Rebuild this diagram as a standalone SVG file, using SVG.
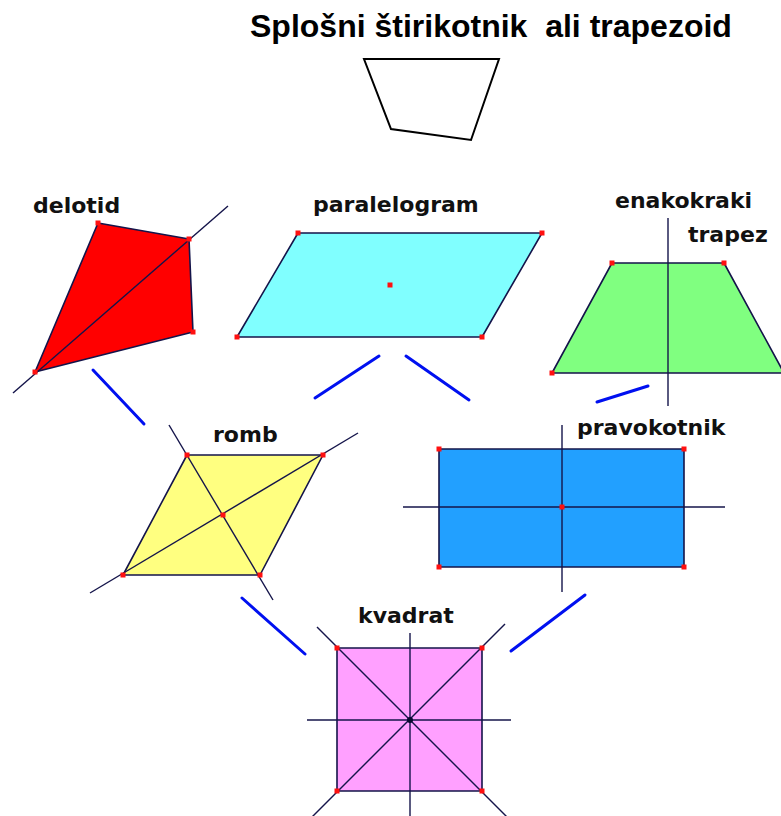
<svg xmlns="http://www.w3.org/2000/svg" width="781" height="816" viewBox="0 0 781 816">
<style>
.lbl{font-family:"DejaVu Sans",sans-serif;font-weight:bold;font-size:22px;fill:#111}
.title{font-family:"Liberation Sans",Arial,sans-serif;font-weight:bold;font-size:32px;fill:#000;white-space:pre}
.shape{stroke:#14144a;stroke-width:1.6;stroke-linejoin:round}
.ax{stroke:#14144a;stroke-width:1.4;fill:none}
.con{stroke:#0010f0;stroke-width:3;stroke-linecap:round;fill:none}
.pt{fill:#ff1010}
</style>
<defs>
<rect id="d" x="-2.5" y="-2.5" width="5" height="5" class="pt"/>
</defs>
<rect width="781" height="816" fill="#fff"/>

<g id="splosni">
<text class="title" x="250" y="37" xml:space="preserve">Splošni štirikotnik  ali trapezoid</text>
<polygon points="364,59 499,59 471,140 391,129" fill="#fff" stroke="#000" stroke-width="2"/>
</g>

<g id="delotid">
<text class="lbl" x="33" y="213">delotid</text>
<polygon class="shape" points="98,223 189,239 193,332 35,372" fill="#ff0000"/>
<line class="ax" x1="13" y1="393" x2="228" y2="206"/>
<use href="#d" x="98" y="223"/><use href="#d" x="189" y="239"/><use href="#d" x="193" y="332"/><use href="#d" x="35" y="372"/>
</g>

<g id="paralelogram">
<text class="lbl" x="313" y="212">paralelogram</text>
<polygon class="shape" points="298,233 542,233 482,337 237,337" fill="#80ffff"/>
<use href="#d" x="298" y="233"/><use href="#d" x="542" y="233"/><use href="#d" x="482" y="337"/><use href="#d" x="237" y="337"/>
<use href="#d" x="390" y="285"/>
</g>

<g id="enakokraki-trapez">
<text class="lbl" x="615" y="208">enakokraki</text>
<text class="lbl" x="688" y="242">trapez</text>
<polygon class="shape" points="612,263 724,263 784,373 552,373" fill="#80ff80"/>
<line class="ax" x1="668" y1="218" x2="668" y2="406"/>
<use href="#d" x="612" y="263"/><use href="#d" x="724" y="263"/><use href="#d" x="552" y="373"/>
</g>

<g id="romb">
<text class="lbl" x="213" y="442">romb</text>
<polygon class="shape" points="187,455 323,455 260,575 123,575" fill="#ffff80"/>
<line class="ax" x1="169" y1="425" x2="273" y2="600"/>
<line class="ax" x1="90" y1="593" x2="358" y2="433"/>
<use href="#d" x="187" y="455"/><use href="#d" x="323" y="455"/><use href="#d" x="260" y="575"/><use href="#d" x="123" y="575"/>
<use href="#d" x="223" y="515"/>
</g>

<g id="pravokotnik">
<text class="lbl" x="577" y="435">pravokotnik</text>
<rect class="shape" x="439" y="449" width="245" height="118" fill="#22a0ff"/>
<line class="ax" x1="403" y1="507" x2="725" y2="507"/>
<line class="ax" x1="562" y1="425" x2="562" y2="592"/>
<use href="#d" x="439" y="449"/><use href="#d" x="684" y="449"/><use href="#d" x="684" y="567"/><use href="#d" x="439" y="567"/>
<use href="#d" x="562" y="507"/>
</g>

<g id="kvadrat">
<text class="lbl" x="358" y="623">kvadrat</text>
<rect class="shape" x="337" y="648" width="145" height="143" fill="#ffa0ff"/>
<line class="ax" x1="307" y1="720" x2="511" y2="720"/>
<line class="ax" x1="410" y1="633" x2="410" y2="816"/>
<line class="ax" x1="317" y1="627" x2="507" y2="817"/>
<line class="ax" x1="505" y1="624" x2="312" y2="817"/>
<use href="#d" x="337" y="648"/><use href="#d" x="482" y="648"/><use href="#d" x="482" y="791"/><use href="#d" x="337" y="791"/>
<circle cx="410" cy="720" r="3" fill="#0a0a30"/>
</g>

<g id="connectors">
<line class="con" x1="93" y1="370" x2="144" y2="424"/>
<line class="con" x1="379" y1="356" x2="315" y2="398"/>
<line class="con" x1="406" y1="356" x2="469" y2="400"/>
<line class="con" x1="648" y1="386" x2="597" y2="402"/>
<line class="con" x1="242" y1="598" x2="305" y2="654"/>
<line class="con" x1="585" y1="595" x2="511" y2="651"/>
</g>
</svg>
